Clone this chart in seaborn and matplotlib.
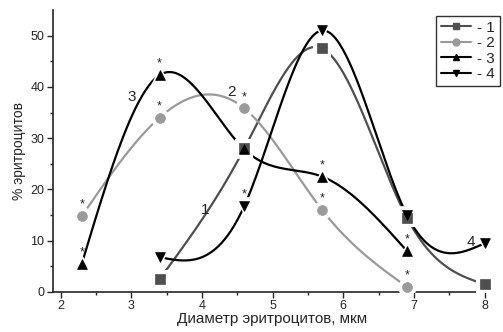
import numpy as np
import pandas as pd
import matplotlib
matplotlib.use("Agg")
import matplotlib.pyplot as plt
from matplotlib.lines import Line2D
import seaborn as sns

# ---- data ----
x1 = [3.4, 4.6, 5.7, 6.9, 8.0]
y1 = [2.5, 28.0, 47.5, 14.5, 1.5]
x2 = [2.3, 3.4, 4.6, 5.7, 6.9]
y2 = [14.8, 34.0, 35.8, 16.0, 1.0]
x3 = [2.3, 3.4, 4.6, 5.7, 6.9]
y3 = [5.5, 42.3, 27.8, 22.5, 8.0]
x4 = [3.4, 4.6, 5.7, 6.9, 8.0]
y4 = [6.8, 16.8, 51.0, 15.0, 9.5]
series_names = ["- 1", "- 2", "- 3", "- 4"]
# asterisk flags per point
star1 = [0, 0, 0, 0, 0]
star2 = [1, 1, 1, 1, 1]
star3 = [1, 1, 0, 1, 1]
star4 = [0, 1, 0, 0, 0]
curve_labels = ["1", "2", "3", "4"]
label_pos = [(4.05, 16.0), (4.42, 39.0), (3.0, 38.0), (7.8, 9.8)]

sns.set_style("ticks")
plt.rcParams['font.family'] = ['Liberation Sans', 'DejaVu Sans']

def natural_spline(x, y, n=200):
    x = np.asarray(x, float); y = np.asarray(y, float)
    k = len(x); h = np.diff(x)
    A = np.zeros((k, k)); b = np.zeros(k)
    A[0, 0] = 1; A[-1, -1] = 1
    for i in range(1, k - 1):
        A[i, i - 1] = h[i - 1]; A[i, i] = 2 * (h[i - 1] + h[i]); A[i, i + 1] = h[i]
        b[i] = 6 * ((y[i + 1] - y[i]) / h[i] - (y[i] - y[i - 1]) / h[i - 1])
    M = np.linalg.solve(A, b)
    xs = np.linspace(x[0], x[-1], n)
    idx = np.clip(np.searchsorted(x, xs) - 1, 0, k - 2)
    xi, xj = x[idx], x[idx + 1]; hi = xj - xi
    ys = (M[idx] * (xj - xs) ** 3 / (6 * hi) + M[idx + 1] * (xs - xi) ** 3 / (6 * hi)
          + (y[idx] / hi - M[idx] * hi / 6) * (xj - xs)
          + (y[idx + 1] / hi - M[idx + 1] * hi / 6) * (xs - xi))
    return xs, ys

fig = plt.figure(figsize=(5.03, 3.32), dpi=100)
ax = fig.add_axes([0.105, 0.1205, 0.8726, 0.8495])

colors = ["#4f4f4f", "#9a9a9a", "#000000", "#000000"]
markers = ["s", "o", "^", "v"]
xs_all = [x1, x2, x3, x4]
ys_all = [y1, y2, y3, y4]
stars = [star1, star2, star3, star4]

for xs, ys, c, m, st in zip(xs_all, ys_all, colors, markers, stars):
    cx, cy = natural_spline(xs, ys)
    sns.lineplot(x=cx, y=cy, ax=ax, color=c, lw=1.6, sort=False, estimator=None)
    df = pd.DataFrame({"x": xs, "y": ys})
    # white halo to produce line gap around markers
    sns.scatterplot(data=df, x="x", y="y", ax=ax, marker=m, s=180, color="white",
                    edgecolor="white", linewidth=0, zorder=3)
    sns.scatterplot(data=df, x="x", y="y", ax=ax, marker=m, s=50, color=c,
                    edgecolor=c, linewidth=0.5, zorder=4)
    for xv, yv, s in zip(xs, ys, st):
        if s:
            ax.text(xv, yv + 2.2, "*", ha="center", va="center", fontsize=9, zorder=5)

for lab, (lx, ly) in zip(curve_labels, label_pos):
    ax.text(lx, ly, lab, ha="center", va="center", fontsize=11)

ax.set_xlim(1.89, 8.1)
ax.set_ylim(0, 55)
ax.set_xticks([2, 3, 4, 5, 6, 7, 8])
ax.set_yticks([0, 10, 20, 30, 40, 50])
ax.set_xticks(np.arange(2.5, 8.1, 1.0), minor=True)
ax.set_yticks(np.arange(5, 55, 10), minor=True)
ax.tick_params(which="major", direction="out", length=4, width=1, labelsize=9, pad=2)
ax.tick_params(which="minor", direction="out", length=2.5, width=1)
for sp in ["top", "right"]:
    ax.spines[sp].set_visible(False)
for sp in ["left", "bottom"]:
    ax.spines[sp].set_linewidth(1.2)
ax.set_xlabel("Диаметр эритроцитов, мкм", fontsize=11, labelpad=0)
ax.set_ylabel("% эритроцитов", fontsize=10, labelpad=3)

handles = [Line2D([0], [0], color=c, marker=m, markersize=5, lw=1.5)
           for c, m in zip(colors, markers)]
leg = fig.legend(handles, series_names, loc="upper left", bbox_to_anchor=(436 / 503, 1 - 16 / 332),
                 frameon=True, fancybox=False, edgecolor="black", fontsize=11,
                 handlelength=2.0, handletextpad=0.4, borderpad=0.3, labelspacing=0.1,
                 borderaxespad=0)
leg.get_frame().set_linewidth(1.0)

fig.savefig("out.png", dpi=100)
